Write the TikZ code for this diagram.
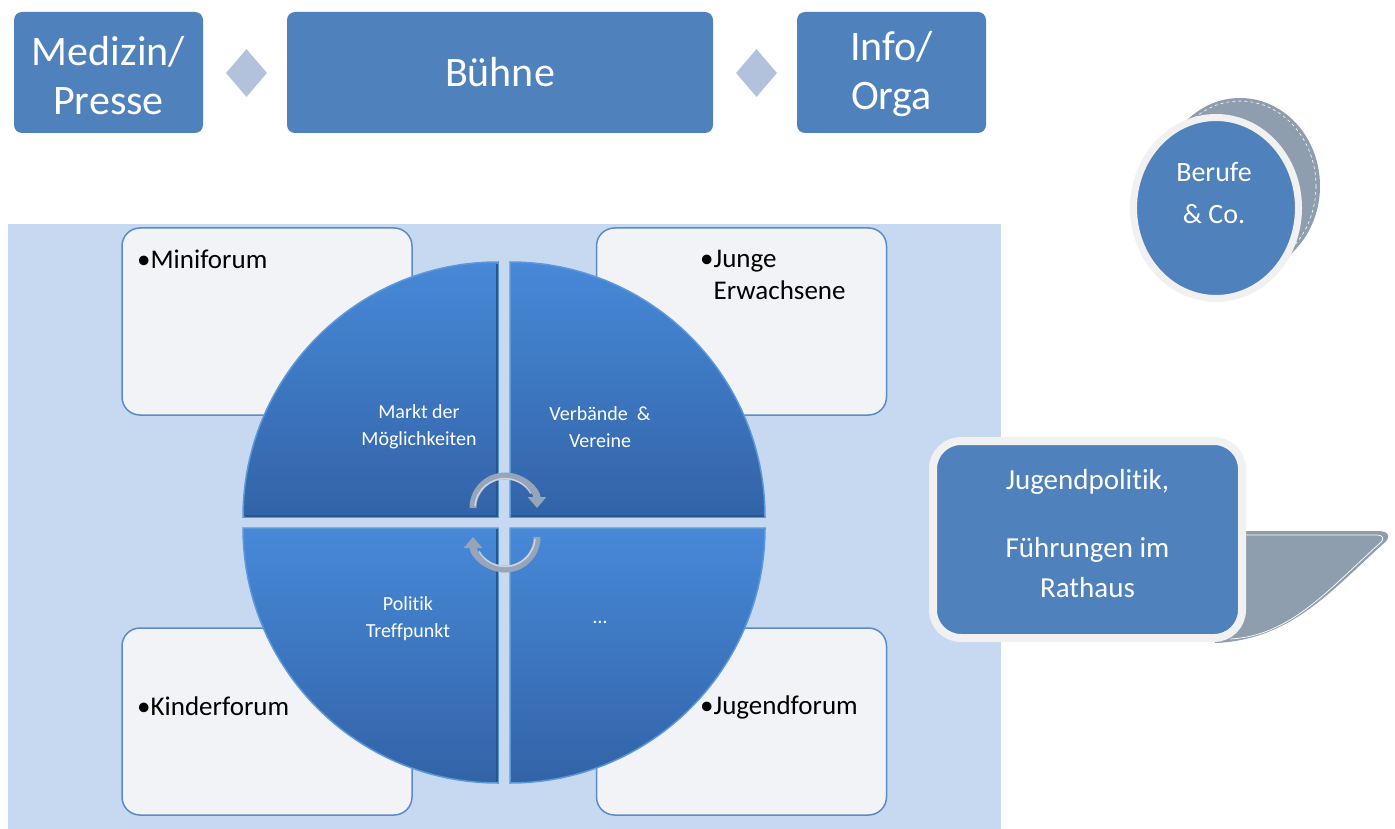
\documentclass[tikz,border=0pt]{standalone}
\usepackage{fontspec}
\setmainfont{Carlito}[Ligatures=NoCommon]
\usetikzlibrary{shapes.geometric,arrows.meta}

\definecolor{boxblue}{HTML}{4F81BD}
\definecolor{diamondblue}{HTML}{B2C1DC}
\definecolor{areablue}{HTML}{C6D9F1}
\definecolor{cardfill}{HTML}{F2F3F6}
\definecolor{cardline}{HTML}{5B8BC7}
\definecolor{quadtop}{HTML}{4789D8}
\definecolor{quadbot}{HTML}{3263A7}
\definecolor{quadrim}{HTML}{5C98DC}
\definecolor{quadshadow}{HTML}{2A548C}
\definecolor{sidegray}{HTML}{8E9EAF}
\definecolor{ringwhite}{HTML}{F1F1F1}
\definecolor{arrowgray}{HTML}{97A5B8}

\tikzset{
  topbox/.style={fill=boxblue, rounded corners=8pt, inner sep=0pt, minimum height=121pt},
  toptext/.style={text=white, align=center, font=\fontsize{42}{49}\selectfont, inner sep=0pt},
  sepmark/.style={diamond, fill=diamondblue, minimum width=41pt, minimum height=48pt, inner sep=0pt},
  card/.style={fill=cardfill, draw=cardline, line width=1.5pt, rounded corners=18pt,
    minimum width=290pt, minimum height=187pt, inner sep=0pt},
  cardtext/.style={anchor=west, align=left, font=\fontsize{27}{32}\selectfont, inner sep=0pt},
  quad/.style={top color=quadtop, bottom color=quadbot, draw=quadrim, line width=1.5pt},
  quadtext/.style={text=white, align=center, font=\fontsize{20}{27}\selectfont, inner sep=0pt},
  turn/.style={draw=arrowgray, line width=7pt, -{Triangle[width=18pt,length=11pt]}},
  shine/.style={draw=white, opacity=0.55, line width=1.5pt},
}

\begin{document}
\begin{tikzpicture}[x=1pt, y=-1pt]
  \useasboundingbox (0,0) rectangle (1395,829);
  % area behind the forum cards
  \fill[areablue] (8,224) rectangle (1001,829);
  % cards
  \node[card] (mini)   at (267,321.5)   {};
  \node[card] (junge)  at (741.5,321.5) {};
  \node[card] (kinder) at (267,721.5)   {};
  \node[card] (jugend) at (741.5,721.5) {};
  \node[cardtext] (minitext)   at (137,259) {\textbullet Miniforum};
  \node[cardtext] (jungetext)  at (700,275) {\textbullet Junge\\\hphantom{\textbullet}Erwachsene};
  \node[cardtext] (kindertext) at (137,706) {\textbullet Kinderforum};
  \node[cardtext] (jugendtext) at (700,707) {\textbullet Jugendforum};
  % circle in four parts
  \path[quad] (498,517) -- (243,517) arc[start angle=180, end angle=270, radius=255] -- cycle;
  \path[quad] (510,517) -- (510,262) arc[start angle=270, end angle=360, radius=255] -- cycle;
  \path[quad] (498,528) -- (498,783) arc[start angle=90, end angle=180, radius=255] -- cycle;
  \path[quad] (510,528) -- (765,528) arc[start angle=0, end angle=90, radius=255] -- cycle;
  % shadow on the inner edges
  \draw[quadshadow, line width=1.5pt] (245,516) -- (497,516) -- (497,264);
  \draw[quadshadow, line width=1.5pt] (511,516) -- (764,516);
  \draw[quadshadow, line width=1.5pt] (497,529) -- (497,782);
  \node[quadtext] (markt)   at (419,427) {Markt der\\Möglichkeiten};
  \node[quadtext] (verband) at (600,427) {Verbände~ \&\\Vereine};
  \node[quadtext] (politik) at (408,619) {Politik\\Treffpunkt};
  \node[quadtext] (weitere) at (600,622) {\dots};
  % turning arrows
  \draw[turn] (473,508) arc[start angle=180, end angle=360, radius=32];
  \draw[turn] (537,537) arc[start angle=0, end angle=180, radius=32];
  \draw[shine] (475,506) arc[start angle=185, end angle=330, radius=30];
  \draw[shine] (535,539) arc[start angle=5, end angle=150, radius=30];
  % top row
  \node[topbox, minimum width=189pt] (medizin) at (108.5,72.5) {};
  \node[topbox, minimum width=426pt] (buehne)  at (500,72.5)   {};
  \node[topbox, minimum width=189pt] (info)    at (891.5,72.5) {};
  \node[toptext] (medizintext) at (108.5,76) {Medizin/\\Presse};
  \node[toptext] (buehnetext)  at (500,72.5) {Bühne};
  \node[toptext] (infotext)    at (891.5,74) {Info/\\Orga};
  \node[sepmark] (sepa) at (246.5,73) {};
  \node[sepmark] (sepb) at (756.5,73) {};
  % Berufe disc
  \foreach \k in {0,0.125,...,1}
    \fill[sidegray] ({1216+24*\k},{208-22*\k}) ellipse [x radius=80, y radius=88];
  \draw[white, dashed, line width=0.6pt] (1240,186) ellipse [x radius=76, y radius=85];
  \node[ellipse, fill=boxblue, draw=ringwhite, line width=7pt, minimum width=165pt,
    minimum height=181pt, inner sep=0pt] (berufe) at (1216,208) {};
  \node[text=white, align=center, font=\fontsize{28}{42}\selectfont, inner sep=0pt]
    (berufetext) at (1214,193) {Berufe\\\& Co.};
  % callout
  \fill[sidegray] (1200,531) -- (1378,531) .. controls (1390,531) and (1391,538) .. (1383,544)
    .. controls (1330,592) and (1290,640) .. (1215,643) -- cycle;
  \draw[white, line width=0.7pt] (1240,535) -- (1376,535) .. controls (1384,535) and (1385,539) .. (1379,544)
    .. controls (1328,590) and (1290,636) .. (1230,639);
  \node[draw=ringwhite, line width=8pt, fill=boxblue, rounded corners=28pt, minimum width=309pt,
    minimum height=197pt, inner sep=0pt] (jugendpolitik) at (1087.5,539.5) {};
  \node[text=white, align=center, font=\fontsize{29}{40}\selectfont, inner sep=0pt]
    (jugendtext) at (1087.5,533.5) {Jugendpolitik,\\[28pt]Führungen im\\Rathaus};
\end{tikzpicture}
\end{document}
